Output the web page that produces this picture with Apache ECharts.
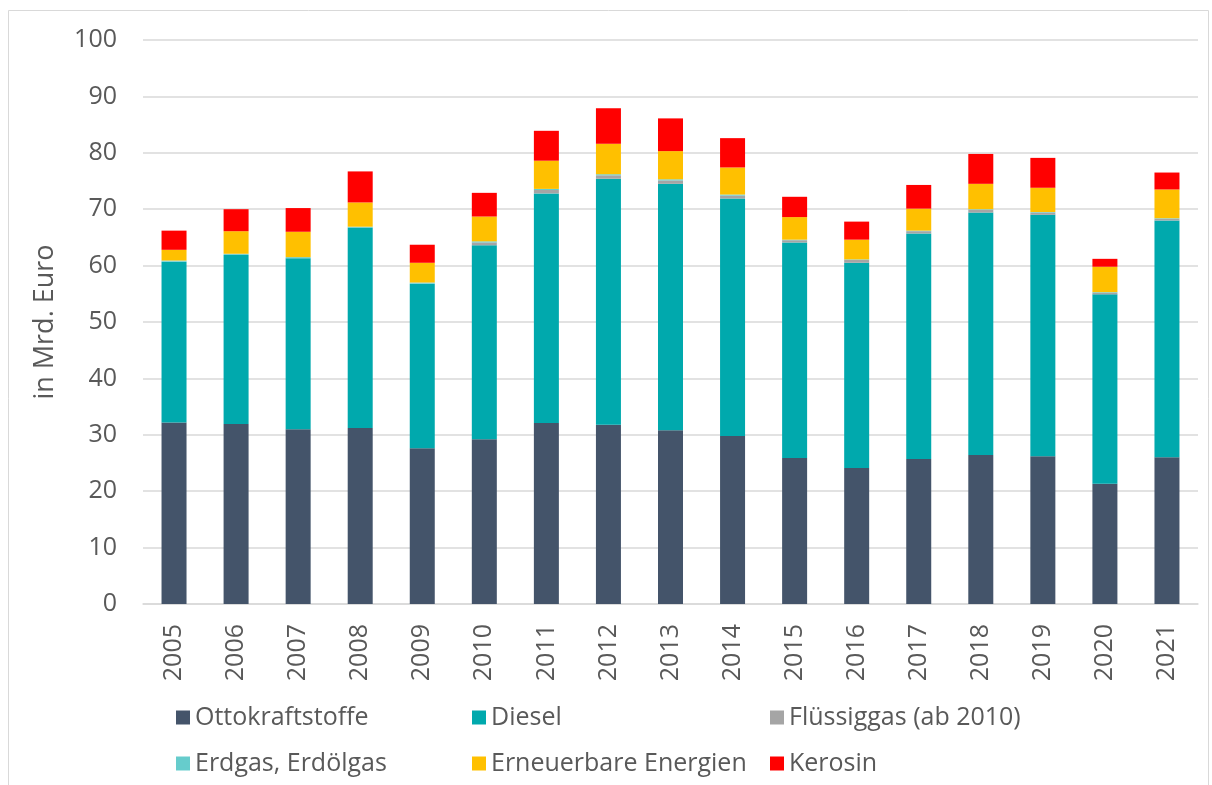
<!DOCTYPE html>
<html>
<head>
<meta charset="utf-8">
<script src="https://cdn.jsdelivr.net/npm/echarts@6/dist/echarts.min.js"></script>
<style>
html,body{margin:0;padding:0;background:#fff;}
#chart{width:1212px;height:785px;}
</style>
</head>
<body>
<div id="chart"></div>
<script>
var years = ['2005','2006','2007','2008','2009','2010','2011','2012','2013','2014','2015','2016','2017','2018','2019','2020','2021'];
var otto = [32.2,31.9,31.0,31.2,27.6,29.2,32.1,31.8,30.8,29.8,25.9,24.1,25.7,26.4,26.2,21.3,26.0];
var diesel = [28.5,30.0,30.3,35.5,29.2,34.4,40.7,43.6,43.7,42.1,38.2,36.4,40.0,43.0,42.8,33.6,42.0];
var fluessiggas = [null,null,null,null,null,0.5,0.6,0.6,0.6,0.5,0.4,0.5,0.4,0.5,0.4,0.3,0.3];
var erdgas = [0.2,0.2,0.2,0.2,0.2,0.2,0.2,0.2,0.2,0.2,0.1,0.1,0.1,0.1,0.1,0.1,0.1];
var erneuerbare = [1.9,4.0,4.5,4.3,3.5,4.4,5.0,5.4,5.0,4.8,4.0,3.5,3.9,4.5,4.3,4.5,5.1];
var kerosin = [3.4,3.9,4.2,5.5,3.2,4.2,5.3,6.3,5.8,5.2,3.6,3.2,4.2,5.3,5.3,1.4,3.0];
var yTicks = [0,10,20,30,40,50,60,70,80,90,100];

var names = ['Ottokraftstoffe','Diesel','Flüssiggas (ab 2010)','Erdgas, Erdölgas','Erneuerbare Energien','Kerosin'];
var colors = ['#44546A','#00A9AD','#A5A5A5','#66CCCC','#FFC000','#FF0000'];
var dataSets = [otto,diesel,fluessiggas,erdgas,erneuerbare,kerosin];
var legendPos = [[171,700],[467,700],[765,700],[171,746],[467,746],[765,746]];

var font = 'Open Sans, Noto Sans, sans-serif';
var series = names.map(function(n,i){
  return {name:n,type:'bar',stack:'total',barWidth:25,data:dataSets[i],
    itemStyle:{color:colors[i]},emphasis:{disabled:true}};
});
var legends = names.map(function(n,i){
  return {data:[n],left:legendPos[i][0],top:legendPos[i][1],itemWidth:14,itemHeight:14,itemGap:6,
    icon:'rect',textStyle:{fontFamily:font,fontSize:25,color:'#595959'}};
});

var chart = echarts.init(document.getElementById('chart'),null,{renderer:'canvas'});
chart.setOption({
  animation:false,
  backgroundColor:'#fff',
  legend:legends,
  grid:{left:143,right:14,top:40,bottom:181,containLabel:false},
  xAxis:{type:'category',data:years,
    axisLine:{lineStyle:{color:'#D9D9D9',width:1.5}},
    axisTick:{show:false},
    axisLabel:{rotate:90,margin:20,fontFamily:font,fontSize:25,color:'#595959'}},
  yAxis:{type:'value',min:0,max:100,interval:10,
    name:'in Mrd. Euro',nameLocation:'middle',nameGap:84,nameRotate:90,
    nameTextStyle:{fontFamily:font,fontSize:27,color:'#595959'},
    axisLine:{show:false},axisTick:{show:false},
    splitLine:{lineStyle:{color:'#D9D9D9',width:1.5}},
    axisLabel:{margin:26,fontFamily:font,fontSize:25,color:'#595959',
      formatter:function(v){return yTicks.indexOf(v)>=0?String(v):'';}}},
  graphic:[{type:'rect',shape:{x:8.5,y:10.5,width:1200,height:780},
    style:{fill:'none',stroke:'#D9D9D9',lineWidth:1},silent:true}],
  series:series
});
</script>
</body>
</html>
